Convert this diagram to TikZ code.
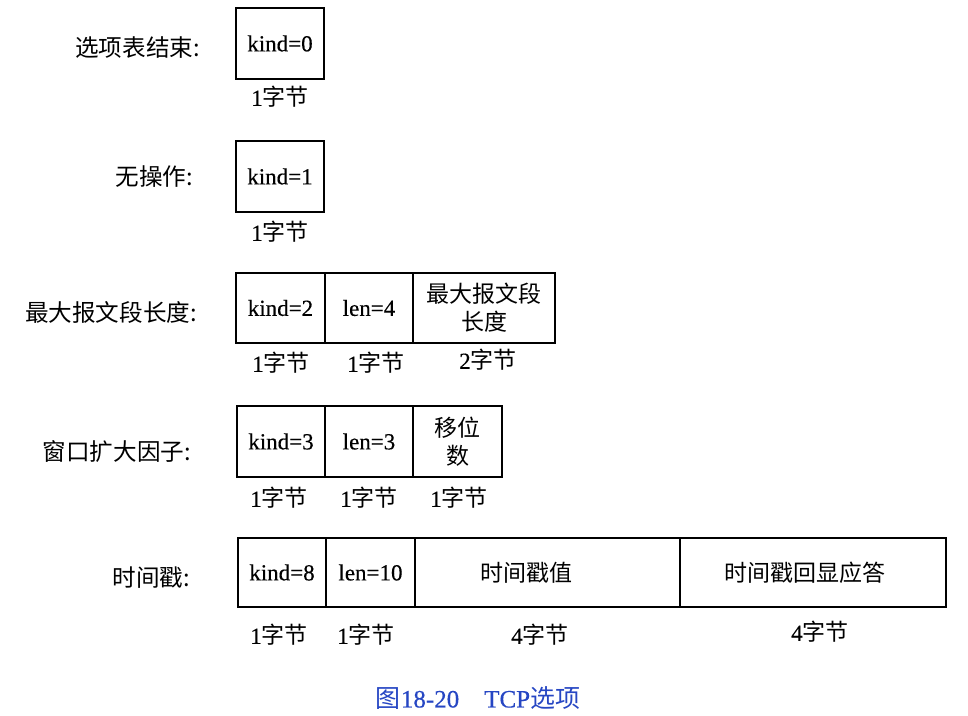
\documentclass[tikz,border=0pt]{standalone}
\usepackage{fontspec}
\setmainfont{Liberation Serif}[FakeBold=0.4]
\newfontfamily\cjk{Noto Sans CJK SC}
\definecolor{capblue}{RGB}{38,70,195}
\tikzset{
  field/.style={draw, line width=0.8pt, minimum height=35.5pt, inner sep=0pt, align=center, font=\fontsize{11.5}{14}\selectfont},
  bytes/.style={font=\fontsize{11.5}{14}\selectfont},
  optname/.style={anchor=east, font=\fontsize{11.8}{14}\selectfont\cjk},
}
\newcommand{\zj}[1]{#1{\cjk 字节}}
\begin{document}
\begin{tikzpicture}[x=0.5pt,y=-0.5pt]
\useasboundingbox (0,0) rectangle (968,716);

% end of option list
\node[optname] (endname) at (207,48) {选项表结束:};
\node[field, minimum width=44pt] (end0) at (280,43.5) {kind=0};
\node[bytes] (end0b) at (280,97) {\zj{1}};

% no operation
\node[optname] (nopname) at (200,177) {无操作:};
\node[field, minimum width=44pt] (nop0) at (280,176.5) {kind=1};
\node[bytes] (nop0b) at (280,232) {\zj{1}};

% maximum segment size
\node[optname] (mssname) at (204,312) {最大报文段长度:};
\node[field, minimum width=44.5pt, minimum height=35pt] (mss0) at (280.5,308) {kind=2};
\node[field, minimum width=44pt, minimum height=35pt] (mss1) at (369,308) {len=4};
\node[field, minimum width=71pt, minimum height=35pt] (mss2) at (484,308) {{\cjk 最大报文段}\\{\cjk 长度}};
\node[bytes] (mss0b) at (281,363) {\zj{1}};
\node[bytes] (mss1b) at (376,363) {\zj{1}};
\node[bytes] (mss2b) at (488,360) {\zj{2}};

% window scale
\node[optname] (wsname) at (198,452) {窗口扩大因子:};
\node[field, minimum width=44pt] (ws0) at (281,441.5) {kind=3};
\node[field, minimum width=44pt] (ws1) at (369,441.5) {len=3};
\node[field, minimum width=44.5pt] (ws2) at (457.5,441.5) {{\cjk 移位}\\{\cjk 数}};
\node[bytes] (ws0b) at (279,498) {\zj{1}};
\node[bytes] (ws1b) at (369,498) {\zj{1}};
\node[bytes] (ws2b) at (459,498) {\zj{1}};

% timestamp
\node[optname] (tsname) at (197,578) {时间戳:};
\node[field, minimum width=44pt, minimum height=34.5pt] (ts0) at (282,572.5) {kind=8};
\node[field, minimum width=44.5pt, minimum height=34.5pt] (ts1) at (370.5,572.5) {len=10};
\node[field, minimum width=132.5pt, minimum height=34.5pt] (ts2) at (547.5,572.5) {{\cjk 时间戳值}\hspace*{21pt}};
\node[field, minimum width=133pt, minimum height=34.5pt] (ts3) at (813,572.5) {{\cjk 时间戳回显应答}\hspace*{8pt}};
\node[bytes] (ts0b) at (279,635) {\zj{1}};
\node[bytes] (ts1b) at (366,635) {\zj{1}};
\node[bytes] (ts2b) at (540,635) {\zj{4}};
\node[bytes] (ts3b) at (820,632) {\zj{4}};

% caption
\node[text=capblue, font=\fontsize{12.5}{15}\selectfont] (caption) at (478,698) {{\cjk 图}18-20\quad TCP{\cjk 选项}};
\end{tikzpicture}
\end{document}
